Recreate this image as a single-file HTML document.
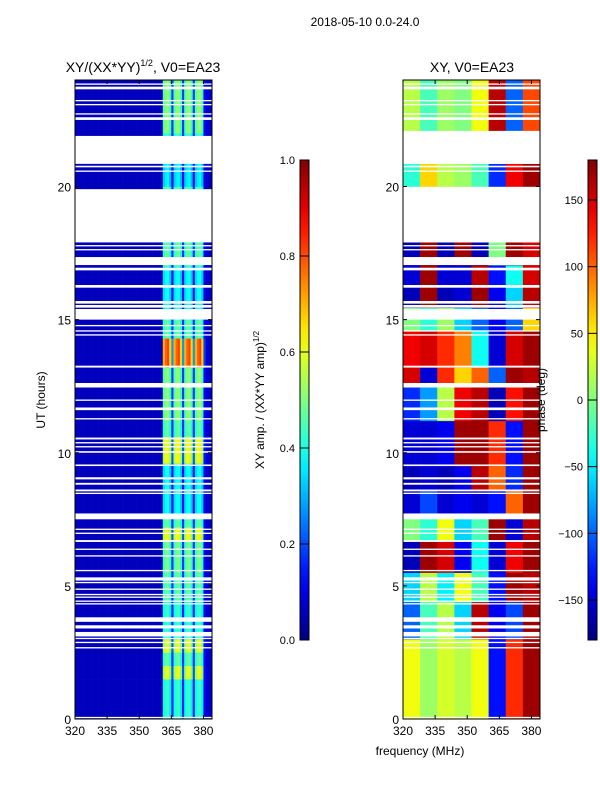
<!DOCTYPE html>
<html><head><meta charset="utf-8">
<style>
body{margin:0;background:#fff;}
svg text{font-family:"Liberation Sans","DejaVu Sans",sans-serif;fill:#000;}
</style></head>
<body>
<svg id="chart" width="600" height="800" xmlns="http://www.w3.org/2000/svg">
<rect width="600" height="800" fill="#fff"/>
<text x="365" y="26" font-size="12" text-anchor="middle">2018-05-10 0.0-24.0</text>
<text x="143" y="72" font-size="14" text-anchor="middle">XY/(XX*YY)<tspan font-size="9" dy="-6">1/2</tspan><tspan dy="6">, V0=EA23</tspan></text>
<text x="472" y="72" font-size="14" text-anchor="middle">XY, V0=EA23</text>
<text transform="translate(45,400) rotate(-90)" font-size="12" text-anchor="middle">UT (hours)</text>
<text x="420" y="755" font-size="12" text-anchor="middle">frequency (MHz)</text>
<text transform="translate(264,400) rotate(-90)" font-size="12" text-anchor="middle">XY amp. / (XX*YY amp)<tspan font-size="8" dy="-5">1/2</tspan></text>
<g id="ampPanel"></g>
<g id="phasePanel"></g>
<g id="cbars"></g>
<g id="axes"></g>
<text transform="translate(545,400) rotate(-90)" font-size="12" text-anchor="middle">phase (deg)</text>
</svg>
<script>
// ---- data ----
const xTicks = [320, 335, 350, 365, 380];
const yTicks = [0, 5, 10, 15, 20];
const ampTicks = [0.0, 0.2, 0.4, 0.6, 0.8, 1.0];
const phaseTicks = [-150, -100, -50, 0, 50, 100, 150];
// flagged (white) time intervals, hours
const flagStart = [20.85,20.72,20.55,17.9,17.75,17.6,17.05,16.85,16.2,15.6,15.45,15.0,14.75,14.55,14.4,13.2,12.45,11.95,11.6,11.25,10.5,10.35,10.2,10.0,9.5,9.0,8.8,8.55,8.45,7.5,7.1,6.95,6.65,6.35,6.1,5.55,5.2,5.1,4.85,4.65,4.55,4.4,4.3,3.65,3.4,3.1,3.0,2.85,2.65,0.03,23.82,23.65,23.2,23.05,22.7,22.5];
const flagEnd   = [21.9,20.78,20.6,19.9,17.8,17.65,17.35,16.95,16.3,15.7,15.55,15.4,14.8,14.6,14.45,13.27,12.62,12.0,11.7,11.3,10.57,10.4,10.25,10.06,9.56,9.08,8.87,8.62,8.5,7.72,7.15,7.0,6.72,6.4,6.15,5.6,5.32,5.15,4.9,4.7,4.6,4.45,4.35,3.82,3.52,3.27,3.05,2.9,2.7,0.08,23.87,23.75,23.25,23.1,22.75,22.6];
// amplitude: column profile (1 MHz channels, 320..383)
const ampCols = [0.06,0.06,0.06,0.06,0.06,0.06,0.06,0.06,0.06,0.06,0.06,0.06,0.06,0.06,0.06,0.06,
 0.06,0.06,0.06,0.06,0.06,0.06,0.06,0.06,0.06,0.06,0.06,0.06,0.06,0.06,0.06,0.06,
 0.06,0.06,0.06,0.06,0.06,0.06,0.06,0.06,0.06,
 0.38,0.42,0.44,0.36,0.15,0.38,0.42,0.44,0.36,0.15,0.38,0.42,0.44,0.36,0.15,0.38,0.42,0.44,0.36,0.1,0.08,0.08,0.07];
// amplitude: per-time-block gain on the bright band
const ampBlockStart = [0,1.5,2.0,2.5,3.0,4.4,5.5,6.7,7.2,7.7,9.6,10.6,11.2,13.2,14.3,15.0,17.0,20.0,20.85,22.0];
const ampBlockEnd   = [1.5,2.0,2.5,3.0,4.4,5.5,6.7,7.2,7.7,9.6,10.6,11.2,13.2,14.3,15.0,17.0,20.0,20.85,22.0,24.0];
const ampBlockGain  = [1.0,1.4,1.1,1.4,1.0,1.1,1.15,1.45,1.1,0.9,1.45,1.1,1.2,1.85,1.1,0.9,1.1,0.85,1.0,1.2];
// phase: time blocks x 8 frequency groups (8 MHz each), degrees
const phaseBlockStart = [0,3.0,4.4,5.5,6.7,7.7,8.6,9.5,11.2,12.6,13.2,14.6,15.45,16.2,17.05,20.0,22.1];
const phaseBlockEnd   = [3.0,4.4,5.5,6.7,7.7,8.6,9.5,11.2,12.6,13.2,14.6,15.45,16.2,17.05,17.9,20.85,24.0];
const phaseG0 = [40,-100,-60,-160,0,-150,-160,-150,-120,150,140,0,-160,-150,-160,-30,20];
const phaseG1 = [10,-20,20,170,-30,-110,-150,-150,-80,-150,150,-30,170,170,170,60,-20];
const phaseG2 = [30,20,-50,150,40,-150,-160,-140,20,120,120,10,-160,-150,-160,20,10];
const phaseG3 = [20,-60,40,-140,-60,-140,-140,170,140,60,90,-60,-150,-150,170,10,0];
const phaseG4 = [40,160,-20,-40,-20,-150,160,170,160,100,-40,-100,170,160,-160,-20,40];
const phaseG5 = [-130,-140,-130,-150,170,-130,100,120,-160,-100,-150,-140,-140,-130,0,-120,160];
const phaseG6 = [120,-110,170,140,-150,100,-120,-130,130,170,150,-100,-60,-40,170,140,-100];
const phaseG7 = [170,170,160,170,160,170,170,170,170,160,170,60,160,150,150,170,110];

// ---- helpers ----
const NS = "http://www.w3.org/2000/svg";
function jet(v){v=Math.max(0,Math.min(1,v));
 const r=Math.max(0,Math.min(1,1.5-Math.abs(4*v-3))),g=Math.max(0,Math.min(1,1.5-Math.abs(4*v-2))),b=Math.max(0,Math.min(1,1.5-Math.abs(4*v-1)));
 return `rgb(${Math.round(r*255)},${Math.round(g*255)},${Math.round(b*255)})`;}
function el(tag,attrs,parent){const e=document.createElementNS(NS,tag);for(const k in attrs)e.setAttribute(k,attrs[k]);parent.appendChild(e);return e;}
const panels=[{x0:75,id:'ampPanel'},{x0:403,id:'phasePanel'}];
const PW=137,TOP=80,BOT=719;
const yS=h=>BOT-h*(BOT-TOP)/24;
const xS=(x0,f)=>x0+(f-320)*PW/64;

// amplitude heatmap
const ag=document.getElementById('ampPanel');
for(let b=0;b<ampBlockStart.length;b++){
 for(let c=0;c<ampCols.length;c++){
  const base=ampCols[c];const v=base<0.1?base:Math.min(1,base*ampBlockGain[b]);
  const x1=xS(75,320+c),x2=xS(75,321+c),y1=yS(ampBlockEnd[b]),y2=yS(ampBlockStart[b]);
  const r=el('rect',{x:x1,y:y1,width:x2-x1+0.3,height:y2-y1+0.3,fill:jet(v)},ag);
  
  
 }}
// phase heatmap
const pg=document.getElementById('phasePanel');
const groups=[phaseG0,phaseG1,phaseG2,phaseG3,phaseG4,phaseG5,phaseG6,phaseG7];
for(let b=0;b<phaseBlockStart.length;b++){
 for(let g=0;g<8;g++){
  const v=(groups[g][b]+180)/360;
  const x1=xS(403,320+g*8),x2=xS(403,328+g*8),y1=yS(phaseBlockEnd[b]),y2=yS(phaseBlockStart[b]);
  const r=el('rect',{x:x1,y:y1,width:x2-x1+0.3,height:y2-y1+0.3,fill:jet(v)},pg);
  
  
 }}
// flags
for(const p of panels){
 const g=document.getElementById(p.id);
 for(let i=0;i<flagStart.length;i++){
  const lo=Math.min(flagStart[i],flagEnd[i]),hi=Math.max(flagStart[i],flagEnd[i]);
  const y1=yS(hi),y2=yS(lo);
  const r=el('rect',{x:p.x0,y:y1,width:PW,height:Math.max(1,y2-y1),fill:'#fff'},g);
  
  
 }}
// axes
const ax=document.getElementById('axes');
for(const p of panels){
 el('rect',{x:p.x0,y:TOP,width:PW,height:BOT-TOP,fill:'none',stroke:'#000','stroke-width':1},ax);
 for(const t of yTicks){const y=yS(t);
  el('line',{x1:p.x0,x2:p.x0+4,y1:y,y2:y,stroke:'#000'},ax);
  el('line',{x1:p.x0+PW-4,x2:p.x0+PW,y1:y,y2:y,stroke:'#000'},ax);
  const tx=el('text',{x:p.x0-4,y:y+5,'font-size':12,'text-anchor':'end'},ax);tx.textContent=t;
  
  }
 for(const t of xTicks){const x=xS(p.x0,t);
  el('line',{x1:x,x2:x,y1:BOT,y2:BOT-4,stroke:'#000'},ax);
  el('line',{x1:x,x2:x,y1:TOP,y2:TOP+4,stroke:'#000'},ax);
  const tx=el('text',{x:x,y:BOT+16,'font-size':12,'text-anchor':'middle'},ax);tx.textContent=t;
  
  }
}
// colorbars
const cb=document.getElementById('cbars');
const defs=el('defs',{},cb);
const grad=el('linearGradient',{id:'jetg',x1:0,y1:1,x2:0,y2:0},defs);
for(let i=0;i<=20;i++)el('stop',{offset:i/20,'stop-color':jet(i/20)},grad);
function colorbar(x,ticks,lo,hi,fmt,name){
 const r=el('rect',{x:x,y:160,width:9,height:480,fill:'url(#jetg)',stroke:'#000','stroke-width':1},cb);
 
 
 for(const t of ticks){const y=640-(t-lo)/(hi-lo)*480;
  el('line',{x1:x,x2:x+9,y1:y,y2:y,stroke:'#000'},cb);
  const tx=el('text',{x:x-5,y:y+4,'font-size':11,'text-anchor':'end'},cb);tx.textContent=fmt(t);
  
  }
}
colorbar(300,ampTicks,0,1,t=>t.toFixed(1),'amp-colorbar');
colorbar(588,phaseTicks,-180,180,t=>t<0?'\u2212'+(-t):String(t),'phase-colorbar');
</script>
</body></html>
